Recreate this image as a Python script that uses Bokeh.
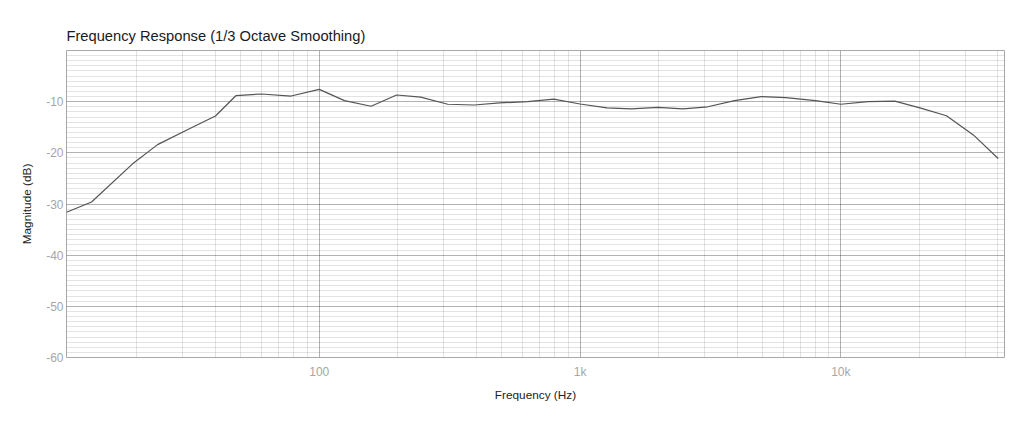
from bokeh.plotting import figure
from bokeh.models import Range1d, FixedTicker, ColumnDataSource
from bokeh.embed import file_html
from bokeh.resources import INLINE

# ---- data ----
freq_hz = [10.74, 13.4, 19.2, 24.0, 31.5, 40, 48, 60, 78, 100, 125, 158, 198, 245,
           311, 393, 491, 630, 793, 1000, 1270, 1570, 1990, 2480, 3090, 3910, 4950,
           6150, 8000, 10000, 12700, 16100, 20400, 25400, 32200, 40100]
magnitude_db = [-31.6, -29.6, -22.2, -18.4, -15.4, -12.8, -8.8, -8.5, -8.9, -7.6, -9.8,
                -10.9, -8.7, -9.1, -10.5, -10.65, -10.25, -10.0, -9.5, -10.45, -11.2,
                -11.4, -11.1, -11.4, -11.0, -9.8, -9.0, -9.2, -9.8, -10.5, -10.0, -9.9,
                -11.3, -12.75, -16.5, -21.1]

x_major_ticks = [100, 1000, 10000]
x_major_labels = {100: "100", 1000: "1k", 10000: "10k"}
x_minor_ticks = [20, 30, 40, 50, 60, 70, 80, 90,
                 200, 300, 400, 500, 600, 700, 800, 900,
                 2000, 3000, 4000, 5000, 6000, 7000, 8000, 9000,
                 20000, 30000, 40000]
y_major_ticks = [-60, -50, -40, -30, -20, -10]
y_major_labels = {-60: "-60", -50: "-50", -40: "-40", -30: "-30", -20: "-20", -10: "-10"}
y_minor_ticks = [v for v in range(-59, 0) if v % 10 != 0]

chart_title = "Frequency Response (1/3 Octave Smoothing)"
x_label = "Frequency (Hz)"
y_label = "Magnitude (dB)"

FONT = "Liberation Sans"

src = ColumnDataSource(data=dict(f=freq_hz, m=magnitude_db))

p = figure(x_axis_type="log", x_range=Range1d(10.74, 42400), y_range=Range1d(-60, 0),
           frame_width=938, frame_height=307,
           min_border_left=66, min_border_right=12, min_border_top=50, min_border_bottom=62,
           output_backend="svg", toolbar_location=None, background_fill_color="white",
           border_fill_color="white", title=chart_title)

p.title.text_font = FONT
p.title.text_font_size = "14.7px"
p.title.text_font_style = "normal"
p.title.text_color = "#1a1a1a"
p.title.align = "left"
p.title.offset = 0
p.title.standoff = 14

p.line("f", "m", source=src, line_color="#555555", line_width=1.2)

xt = FixedTicker(ticks=x_major_ticks, minor_ticks=x_minor_ticks)
yt = FixedTicker(ticks=y_major_ticks, minor_ticks=y_minor_ticks)
p.xaxis.ticker = xt
p.yaxis.ticker = yt
p.xaxis.major_label_overrides = x_major_labels
p.yaxis.major_label_overrides = y_major_labels

for g in (p.xgrid[0], p.ygrid[0]):
    g.grid_line_color = "black"
    g.grid_line_alpha = 0.30
    g.minor_grid_line_color = "black"
    g.minor_grid_line_alpha = 0.11
    g.grid_line_width = 1

p.outline_line_color = "#a8a8a8"
p.outline_line_width = 1

for ax in (p.xaxis[0], p.yaxis[0]):
    ax.axis_line_color = None
    ax.major_tick_line_color = None
    ax.minor_tick_line_color = None
    ax.major_tick_out = 0
    ax.major_tick_in = 0
    ax.minor_tick_out = 0
    ax.minor_tick_in = 0
    ax.major_label_text_font = FONT
    ax.major_label_text_font_size = "12px"
    ax.major_label_text_color = "#a6a6a6"
    ax.axis_label_text_font = FONT
    ax.axis_label_text_font_size = "11.8px"
    ax.axis_label_text_color = "#222222"
    ax.axis_label_text_font_style = "normal"

p.xaxis.axis_label = x_label
p.yaxis.axis_label = y_label
p.xaxis.major_label_standoff = 7
p.xaxis.axis_label_standoff = 6
p.yaxis.major_label_standoff = 3
p.yaxis.axis_label_standoff = 9

open("out.html", "w").write(file_html(p, INLINE))
